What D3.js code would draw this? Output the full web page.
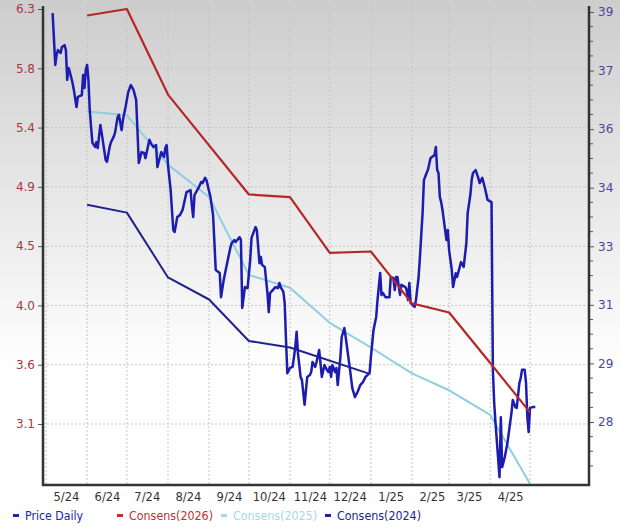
<!DOCTYPE html>
<html>
<head>
<meta charset="utf-8">
<script src="https://cdn.jsdelivr.net/npm/d3@7"></script>
<style>
  body { margin: 0; background: #fff; }
  text { font-family: "DejaVu Sans", Verdana, sans-serif; }
</style>
</head>
<body>
<svg id="canvas" width="620" height="531"></svg>
<script>
// daily closing price (right axis)
const priceDaily = [
  ["2024-05-06", 38.97], ["2024-05-08", 37.58], ["2024-05-09", 37.85], ["2024-05-10", 37.98],
  ["2024-05-12", 37.9], ["2024-05-13", 38.06], ["2024-05-15", 38.11], ["2024-05-16", 37.98],
  ["2024-05-17", 37.18], ["2024-05-18", 37.5], ["2024-05-19", 37.39], ["2024-05-21", 37.1],
  ["2024-05-22", 36.91], ["2024-05-24", 36.45], ["2024-05-25", 36.72], ["2024-05-28", 36.77],
  ["2024-05-29", 37.31], ["2024-05-30", 36.96], ["2024-05-31", 37.44], ["2024-06-01", 37.58],
  ["2024-06-02", 37.18], ["2024-06-03", 36.37], ["2024-06-04", 35.91], ["2024-06-05", 35.49],
  ["2024-06-07", 35.38], ["2024-06-08", 35.51], ["2024-06-09", 35.35], ["2024-06-11", 35.97],
  ["2024-06-12", 35.75], ["2024-06-15", 35.03], ["2024-06-16", 34.98], ["2024-06-18", 35.38],
  ["2024-06-19", 35.51], ["2024-06-21", 35.65], ["2024-06-22", 35.75], ["2024-06-24", 36.18],
  ["2024-06-25", 36.24], ["2024-06-27", 35.83], ["2024-06-28", 36.1], ["2024-06-30", 36.45],
  ["2024-07-02", 36.85], ["2024-07-04", 37.04], ["2024-07-06", 36.91], ["2024-07-08", 36.64],
  ["2024-07-10", 34.95], ["2024-07-12", 35.24], ["2024-07-14", 35.22], ["2024-07-15", 35.08],
  ["2024-07-18", 35.57], ["2024-07-19", 35.49], ["2024-07-20", 35.43], ["2024-07-21", 35.38],
  ["2024-07-23", 35.43], ["2024-07-24", 34.84], ["2024-07-26", 35.11], ["2024-07-27", 35.24],
  ["2024-07-29", 35.11], ["2024-07-30", 35.35], ["2024-07-31", 35.43], ["2024-08-01", 34.9],
  ["2024-08-03", 34.22], ["2024-08-05", 33.15], ["2024-08-06", 33.1], ["2024-08-08", 33.5],
  ["2024-08-10", 33.55], ["2024-08-12", 33.69], ["2024-08-15", 34.17], ["2024-08-18", 34.22],
  ["2024-08-19", 33.82], ["2024-08-20", 33.5], ["2024-08-21", 34.09], ["2024-08-24", 34.28],
  ["2024-08-26", 34.44], ["2024-08-27", 34.41], ["2024-08-29", 34.55], ["2024-08-30", 34.49],
  ["2024-09-02", 34.04], ["2024-09-04", 33.55], ["2024-09-06", 32.08], ["2024-09-09", 32.0],
  ["2024-09-10", 31.35], ["2024-09-12", 31.81], ["2024-09-14", 32.16], ["2024-09-17", 32.67],
  ["2024-09-18", 32.8], ["2024-09-20", 32.88], ["2024-09-21", 32.83], ["2024-09-24", 32.96],
  ["2024-09-25", 32.88], ["2024-09-26", 31.06], ["2024-09-28", 31.62], ["2024-09-30", 31.59],
  ["2024-10-02", 32.35], ["2024-10-03", 32.94], ["2024-10-06", 33.23], ["2024-10-07", 33.15],
  ["2024-10-09", 32.26], ["2024-10-10", 32.43], ["2024-10-11", 32.21], ["2024-10-13", 32.16],
  ["2024-10-15", 31.46], ["2024-10-16", 30.95], ["2024-10-17", 31.46], ["2024-10-19", 31.54],
  ["2024-10-21", 31.62], ["2024-10-23", 31.59], ["2024-10-24", 31.73], ["2024-10-25", 31.62],
  ["2024-10-27", 31.49], ["2024-10-28", 31.19], ["2024-10-29", 30.2], ["2024-10-30", 29.31],
  ["2024-11-01", 29.45], ["2024-11-03", 29.48], ["2024-11-05", 30.01], ["2024-11-06", 30.42],
  ["2024-11-07", 29.85], ["2024-11-09", 29.21], ["2024-11-10", 29.13], ["2024-11-12", 28.46],
  ["2024-11-14", 29.21], ["2024-11-16", 29.26], ["2024-11-17", 29.34], ["2024-11-18", 29.61],
  ["2024-11-20", 29.48], ["2024-11-21", 29.61], ["2024-11-23", 29.93], ["2024-11-24", 29.58],
  ["2024-11-25", 29.21], ["2024-11-27", 29.53], ["2024-11-28", 29.45], ["2024-11-30", 29.34],
  ["2024-12-01", 29.48], ["2024-12-02", 29.21], ["2024-12-03", 29.53], ["2024-12-05", 29.34],
  ["2024-12-06", 29.45], ["2024-12-07", 28.99], ["2024-12-09", 29.74], ["2024-12-10", 30.28],
  ["2024-12-12", 30.52], ["2024-12-13", 30.28], ["2024-12-16", 29.48], ["2024-12-18", 28.91],
  ["2024-12-20", 28.67], ["2024-12-22", 28.81], ["2024-12-24", 28.99], ["2024-12-26", 29.07],
  ["2024-12-28", 29.21], ["2024-12-31", 29.31], ["2025-01-01", 29.74], ["2025-01-03", 30.47],
  ["2025-01-05", 30.82], ["2025-01-06", 31.27], ["2025-01-08", 32.0], ["2025-01-09", 31.41],
  ["2025-01-10", 31.46], ["2025-01-12", 31.35], ["2025-01-15", 31.35], ["2025-01-16", 31.89],
  ["2025-01-18", 31.86], ["2025-01-19", 31.54], ["2025-01-20", 31.89], ["2025-01-21", 31.89],
  ["2025-01-23", 31.41], ["2025-01-24", 31.68], ["2025-01-27", 31.62], ["2025-01-28", 31.54],
  ["2025-01-29", 31.27], ["2025-01-30", 31.73], ["2025-01-31", 31.19], ["2025-02-03", 31.09],
  ["2025-02-04", 31.27], ["2025-02-06", 31.89], ["2025-02-07", 32.43], ["2025-02-09", 33.61],
  ["2025-02-10", 34.49], ["2025-02-12", 34.68], ["2025-02-13", 34.76], ["2025-02-15", 35.08],
  ["2025-02-16", 35.11], ["2025-02-18", 35.16], ["2025-02-19", 35.38], ["2025-02-20", 34.76],
  ["2025-02-21", 34.68], ["2025-02-22", 34.04], ["2025-02-23", 33.9], ["2025-02-24", 33.69],
  ["2025-02-27", 32.88], ["2025-02-28", 33.15], ["2025-03-01", 32.61], ["2025-03-03", 32.08],
  ["2025-03-04", 31.62], ["2025-03-06", 31.99], ["2025-03-07", 31.89], ["2025-03-09", 32.16],
  ["2025-03-10", 32.29], ["2025-03-12", 32.16], ["2025-03-14", 32.8], ["2025-03-15", 33.61],
  ["2025-03-17", 34.09], ["2025-03-18", 34.49], ["2025-03-19", 34.68], ["2025-03-21", 34.76],
  ["2025-03-23", 34.55], ["2025-03-24", 34.41], ["2025-03-26", 34.55], ["2025-03-28", 34.28],
  ["2025-03-30", 33.96], ["2025-04-02", 33.9], ["2025-04-03", 29.4], ["2025-04-04", 28.51],
  ["2025-04-05", 27.97], ["2025-04-08", 26.52], ["2025-04-09", 28.13], ["2025-04-10", 26.79],
  ["2025-04-12", 27.06], ["2025-04-14", 27.44], ["2025-04-17", 28.24], ["2025-04-18", 28.59],
  ["2025-04-20", 28.4], ["2025-04-21", 28.38], ["2025-04-23", 29.05], ["2025-04-24", 29.18],
  ["2025-04-25", 29.4], ["2025-04-27", 29.4], ["2025-04-28", 29.05], ["2025-04-29", 28.13],
  ["2025-04-30", 27.73], ["2025-05-01", 28.38], ["2025-05-03", 28.4], ["2025-05-05", 28.4],
];

// EPS consensus estimates (left axis)
const consens2026 = [
  ["2024-06-01", 6.25], ["2024-07-01", 6.3], ["2024-08-01", 5.64], ["2024-10-01", 4.87],
  ["2024-11-01", 4.85], ["2024-12-01", 4.42], ["2025-01-01", 4.43], ["2025-02-01", 4.03],
  ["2025-03-01", 3.96], ["2025-04-01", 3.57], ["2025-05-01", 3.19],
];
const consens2025 = [
  ["2024-06-01", 5.51], ["2024-07-01", 5.48], ["2024-08-01", 5.1], ["2024-09-01", 4.85],
  ["2024-10-01", 4.25], ["2024-11-01", 4.15], ["2024-12-01", 3.88], ["2025-01-01", 3.69],
  ["2025-02-01", 3.49], ["2025-03-01", 3.36], ["2025-04-01", 3.17], ["2025-05-01", 2.64],
];
const consens2024 = [
  ["2024-06-01", 4.79], ["2024-07-01", 4.73], ["2024-08-01", 4.23], ["2024-09-01", 4.06],
  ["2024-10-01", 3.74], ["2024-11-01", 3.69], ["2024-12-30", 3.49],
];

const leftTicks = d3.range(8).map((i) => 3.1 + (i * 3.2) / 7);
const rightTicks = d3.range(8).map((i) => 28 + (i * 11) / 7);
const rightLabels = ["28", "29", "31", "33", "34", "36", "37", "39"];

const legendLabels = ["Price Daily", "Consens(2026)", "Consens(2025)", "Consens(2024)"];
const legendColors = ["#2222b4", "#c0302e", "#a6d8e8", "#22228c"];

function chart() {
  const svg = d3.select("#canvas");
  const parse = d3.timeParse("%Y-%m-%d");
  const plotL = 43, plotR = 589, plotT = 6, plotB = 485;

  const x = d3.scaleTime()
    .domain([parse("2024-05-01"), parse("2025-05-01")])
    .range([46, 530]);
  const yL = d3.scaleLinear().domain([3.1, 6.3]).range([424, 9]);
  const yR = d3.scaleLinear().domain([28, 39]).range([422, 12]);

  // background fade
  const grad = svg.append("defs").append("linearGradient")
    .attr("id", "bg").attr("x1", 0).attr("y1", 0).attr("x2", 0).attr("y2", 1);
  grad.append("stop").attr("offset", "0%").attr("stop-color", "#cdcdcd");
  grad.append("stop").attr("offset", "70%").attr("stop-color", "#ffffff");
  svg.select("defs").append("clipPath").attr("id", "plot")
    .append("rect").attr("x", plotL).attr("y", 0)
    .attr("width", plotR - plotL).attr("height", plotB);
  svg.append("rect").attr("width", 620).attr("height", 531).attr("fill", "url(#bg)");

  // grid
  const months = d3.timeMonth.range(parse("2024-05-01"), parse("2025-05-02"));
  const grid = svg.append("g").attr("stroke", "#c4c4c4").attr("stroke-dasharray", "2,2");
  grid.selectAll(".v").data(months).join("line").attr("class", "v")
    .attr("x1", (d) => x(d)).attr("x2", (d) => x(d))
    .attr("y1", plotT).attr("y2", plotB);
  grid.selectAll(".h").data(leftTicks).join("line").attr("class", "h")
    .attr("x1", plotL).attr("x2", plotR)
    .attr("y1", (d) => yL(d)).attr("y2", (d) => yL(d));

  // lines
  const lines = svg.append("g").attr("clip-path", "url(#plot)").attr("fill", "none")
    .attr("stroke-linejoin", "round");
  const epsLine = d3.line().x((d) => x(parse(d[0]))).y((d) => yL(d[1]));
  const priceLine = d3.line().x((d) => x(parse(d[0]))).y((d) => yR(d[1]));

  lines.append("path").attr("d", epsLine(consens2024))
    .attr("stroke", "#22228c").attr("stroke-width", 2);
  lines.append("path").attr("d", epsLine(consens2025))
    .attr("stroke", "#8ecfe0").attr("stroke-width", 2);
  lines.append("path").attr("d", priceLine(priceDaily))
    .attr("stroke", "#1c1cb0").attr("stroke-width", 2.5);
  lines.append("path").attr("d", epsLine(consens2026))
    .attr("stroke", "#b52729").attr("stroke-width", 2.2);

  // axes
  const left = svg.append("g").attr("transform", `translate(${plotL},0)`)
    .call(d3.axisLeft(yL).tickValues(leftTicks).tickFormat(d3.format(".1f")).tickSize(5).tickPadding(3));
  left.select(".domain").remove();
  left.selectAll("line").attr("stroke", "#555");
  left.selectAll("text").attr("fill", "#a33a45").attr("font-size", 12)
    .attr("font-family", "DejaVu Sans");

  const right = svg.append("g").attr("transform", `translate(${plotR},0)`)
    .call(d3.axisRight(yR).tickValues(rightTicks).tickFormat((d, i) => rightLabels[i]).tickSize(5).tickPadding(4));
  right.select(".domain").remove();
  right.selectAll("line").attr("stroke", "#555");
  right.selectAll("text").attr("fill", "#4848a0").attr("font-size", 12)
    .attr("font-family", "DejaVu Sans");

  const minorStep = 11 / 7 / 4;
  const minor = d3.range(28 - 4 * minorStep, 39, minorStep)
    .filter((v, i) => i % 4 !== 0 && yR(v) < plotB - 2);
  svg.append("g").selectAll("line").data(minor).join("line")
    .attr("x1", plotR).attr("x2", plotR + 4)
    .attr("y1", (d) => yR(d)).attr("y2", (d) => yR(d))
    .attr("stroke", "#555");

  const mid = months.slice(0, -1).map((d) => d3.timeDay.offset(d, 15));
  const bottom = svg.append("g").attr("transform", `translate(0,${plotB})`)
    .call(d3.axisBottom(x).tickValues(mid).tickFormat(d3.timeFormat("%-m/%y")).tickSize(0).tickPadding(8));
  bottom.select(".domain").remove();
  bottom.selectAll("text").attr("fill", "#333").attr("font-size", 11.5)
    .attr("font-family", "DejaVu Sans");

  // frame
  svg.append("path")
    .attr("d", `M${plotL},${plotT}V${plotB}H${plotR}V${plotT}`)
    .attr("fill", "none").attr("stroke", "#333").attr("stroke-width", 2.5);

  // legend
  const legend = svg.append("g").attr("transform", "translate(13,516)")
    .selectAll("g").data(legendLabels).join("g")
    .attr("transform", (d, i) => `translate(${i * 104},0)`);
  legend.append("rect").attr("x", 0).attr("y", -2).attr("width", 6).attr("height", 3)
    .attr("fill", (d, i) => legendColors[i]);
  legend.append("text").attr("x", 12).attr("y", 4)
    .attr("font-family", "Liberation Sans, Arial, sans-serif").attr("font-size", 11.5)
    .attr("textLength", (d) => (d.length > 11 ? 84 : 58)).attr("lengthAdjust", "spacingAndGlyphs")
    .attr("fill", (d, i) => legendColors[i]).text((d) => d);
}

window.addEventListener("DOMContentLoaded", () => {
  chart();
});
</script>
</body>
</html>
